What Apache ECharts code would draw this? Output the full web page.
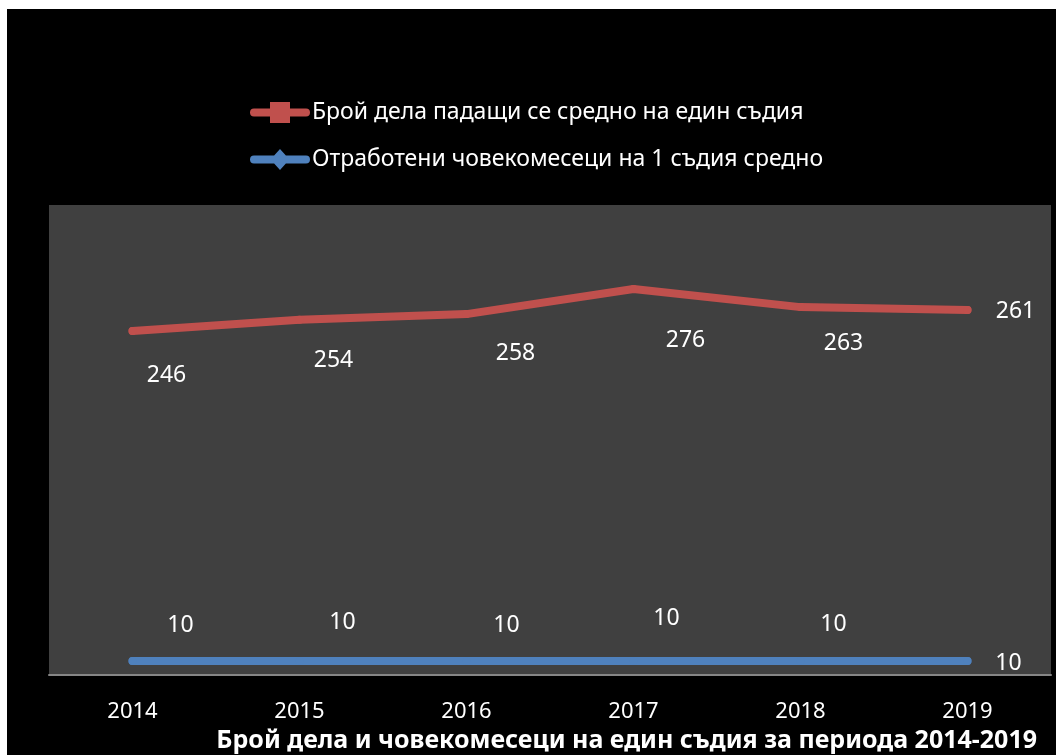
<!DOCTYPE html>
<html>
<head>
<meta charset="utf-8">
<script src="https://cdn.jsdelivr.net/npm/echarts@6/dist/echarts.min.js"></script>
<style>
  html, body { margin: 0; padding: 0; background: #ffffff; }
  #chart { width: 1056px; height: 755px; }
</style>
</head>
<body>
<div id="chart"></div>
<script>
// Years on the category axis
const years = ['2014', '2015', '2016', '2017', '2018', '2019'];
// Cases per judge, on average
const casesPerJudge = [246, 254, 258, 276, 263, 261];
// Worked man-months per judge, on average
const monthsPerJudge = [10, 10, 10, 10, 10, 10];

const seriesNames = [
  'Брой дела падащи се средно на един съдия',
  'Отработени човекомесеци на 1 съдия средно'
];
const chartTitle = 'Брой дела и човекомесеци на един съдия за периода 2014-2019';

// Per-point label offsets [dx, dy] in pixels
const caseLabelOffsets = [[34, 45], [34, 41], [49, 39], [52, 52], [43, 36], [48, 2]];
const monthLabelOffsets = [[48, -36], [43, -39], [40, -36], [33, -43], [33, -37], [41, 2]];

const FONT = '"Noto Sans", "Open Sans", sans-serif';

function withLabels(values, offsets) {
  return values.map((v, i) => ({
    value: v,
    label: { offset: offsets[i] }
  }));
}

// Legend glyphs: a thick rounded stroke with a marker in the middle
const squareIcon = 'path://M4,6.5 L56,6.5 A4,4 0 0 1 56,14.5 L4,14.5 A4,4 0 0 1 4,6.5 Z M20,0 L40,0 L40,21 L20,21 Z';
const diamondIcon = 'path://M4,6.5 L56,6.5 A4,4 0 0 1 56,14.5 L4,14.5 A4,4 0 0 1 4,6.5 Z M30,0 L39.5,10.5 L30,21 L20.5,10.5 Z';

const chart = echarts.init(document.getElementById('chart'));
chart.setOption({
  backgroundColor: '#ffffff',
  animation: false,
  graphic: [
    { type: 'rect', z: -10, silent: true,
      shape: { x: 7, y: 9, width: 1049, height: 746 },
      style: { fill: '#000000' } },
    { type: 'text', right: 19, top: 728, z: 10,
      style: { text: chartTitle, fill: '#ffffff', font: 'bold 25px ' + FONT } }
  ],
  legend: {
    orient: 'vertical',
    left: 250,
    top: 101,
    padding: 0,
    itemWidth: 60,
    itemHeight: 21,
    itemGap: 24,
    textStyle: { color: '#ffffff', fontSize: 23, fontFamily: FONT, padding: [0, 0, 0, -3] },
    data: [
      { name: seriesNames[0], icon: squareIcon, itemStyle: { color: '#C0504D' } },
      { name: seriesNames[1], icon: diamondIcon, itemStyle: { color: '#4F81BD' } }
    ]
  },
  grid: {
    left: 49, right: 5, top: 205, bottom: 80,
    show: true, backgroundColor: '#404040', borderWidth: 0
  },
  xAxis: {
    type: 'category',
    data: years,
    boundaryGap: true,
    axisLine: { show: true, lineStyle: { color: '#868686', width: 2 } },
    axisTick: { show: false },
    axisLabel: { color: '#ffffff', fontSize: 22, fontFamily: FONT, margin: 26 },
    splitLine: { show: false }
  },
  yAxis: {
    type: 'value',
    min: 0,
    max: 336,
    show: false,
    splitLine: { show: false }
  },
  series: [
    {
      name: seriesNames[0],
      type: 'line',
      data: withLabels(casesPerJudge, caseLabelOffsets),
      showSymbol: true,
      symbol: 'circle',
      symbolSize: 8,
      lineStyle: { color: '#C0504D', width: 8, cap: 'round', join: 'round' },
      itemStyle: { color: '#C0504D', borderWidth: 0 },
      label: {
        show: true, position: 'inside', color: '#ffffff',
        fontSize: 23, fontFamily: FONT
      }
    },
    {
      name: seriesNames[1],
      type: 'line',
      data: withLabels(monthsPerJudge, monthLabelOffsets),
      showSymbol: true,
      symbol: 'circle',
      symbolSize: 8,
      lineStyle: { color: '#4F81BD', width: 8, cap: 'round', join: 'round' },
      itemStyle: { color: '#4F81BD', borderWidth: 0 },
      label: {
        show: true, position: 'inside', color: '#ffffff',
        fontSize: 23, fontFamily: FONT
      }
    }
  ]
});
</script>
</body>
</html>
